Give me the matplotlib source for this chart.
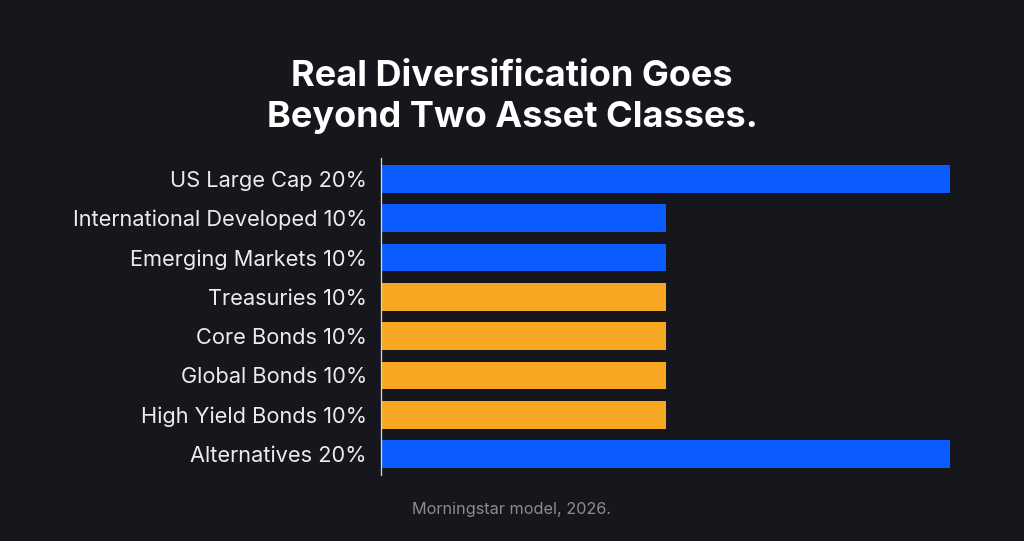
import matplotlib
matplotlib.use('Agg')
import matplotlib.pyplot as plt

# Data
labels = ["US Large Cap 20%", "International Developed 10%", "Emerging Markets 10%",
          "Treasuries 10%", "Core Bonds 10%", "Global Bonds 10%",
          "High Yield Bonds 10%", "Alternatives 20%"]
weights = [20, 10, 10, 10, 10, 10, 10, 20]
groups = ["growth", "growth", "growth", "bond", "bond", "bond", "bond", "growth"]

BG = "#15171c"
BLUE = "#0b5cff"
YELLOW = "#f7a823"
colors = [BLUE if g == "growth" else YELLOW for g in groups]

plt.rcParams['font.family'] = ['Inter', 'DejaVu Sans']

fig = plt.figure(figsize=(10.24, 5.41), dpi=100, facecolor=BG)
ax = fig.add_axes([0.372, 0.122, 0.556, 0.586])
ax.set_facecolor(BG)

y = list(range(len(labels)))
ax.barh(y, weights, height=0.71, color=colors)
ax.set_xlim(0, 20)
ax.set_ylim(len(labels) - 0.47, -0.53)

ax.set_yticks(y)
ax.set_yticklabels(labels, color="#ececec", fontsize=15.7)
ax.tick_params(axis='y', length=0, pad=10)
ax.set_xticks([])

for name, sp in ax.spines.items():
    sp.set_visible(name == 'left')
ax.spines['left'].set_color("#d8d8d8")
ax.spines['left'].set_linewidth(0.9)

fig.text(0.5, 0.821, "Real Diversification Goes\nBeyond Two Asset Classes.",
         ha='center', va='center', color='white', fontsize=26,
         fontweight='bold', linespacing=1.32)
fig.text(0.5, 0.059, "Morningstar model, 2026.", ha='center', va='center',
         color="#8a8c90", fontsize=11.7)

fig.savefig("out.png", dpi=100, facecolor=BG)
